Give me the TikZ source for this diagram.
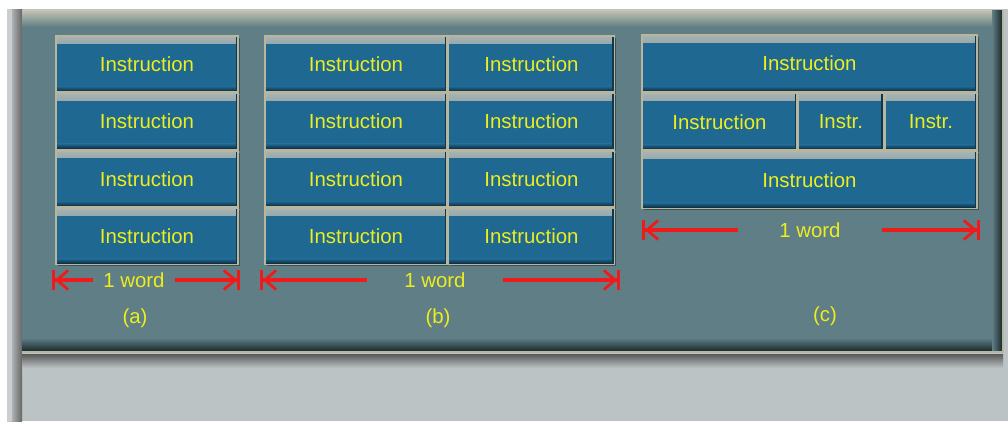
\documentclass[tikz,border=0pt]{standalone}
\usepackage{fontspec}
\setmainfont{Liberation Sans}
\usetikzlibrary{arrows.meta, positioning, shadows}

\definecolor{panelc}{HTML}{5F7E85}
\definecolor{outerc}{HTML}{BCC3C5}
\definecolor{boxc}{HTML}{1F6891}
\definecolor{boxhi}{HTML}{A9B3B1}
\definecolor{boxdk}{HTML}{0B2232}
\definecolor{edgec}{HTML}{B7B69E}
\definecolor{txtc}{HTML}{EEEE1E}
\definecolor{redc}{HTML}{EE1B1B}
\definecolor{darkedge}{HTML}{1C2A2E}

\begin{document}
\begin{tikzpicture}[
    x=0.025cm, y=-0.025cm,
    lbl/.style={text=txtc, font=\fontsize{14.5}{17}\selectfont, inner sep=0pt},
    instr/.style={lbl, draw=edgec, line width=1pt, fill=boxc, minimum height=1.4cm,
        drop shadow={shadow xshift=1.2pt, shadow yshift=-1.2pt, opacity=0.35, fill=black},
        path picture={
            \fill[top color=boxhi, bottom color=boxc] (path picture bounding box.north west) rectangle ([yshift=-5pt]path picture bounding box.north east);
            \fill[top color=boxc, bottom color=boxdk] ([yshift=4pt]path picture bounding box.south west) rectangle (path picture bounding box.south east);
            \fill[boxdk!70!boxc] ([xshift=-1.5pt]path picture bounding box.north east) rectangle (path picture bounding box.south east);
        }},
    word/.style={lbl, minimum height=0.5cm},
    dim/.style={draw=redc, line width=2.6pt, -{Straight Barb[length=2.8mm,width=4.8mm,line width=2pt]Bar[width=4.8mm,line width=2pt]}}
]
% frame and panel
\fill[white] (0,0) rectangle (1008,423);
\fill[outerc] (7,9) rectangle (1008,421);
\fill[left color=outerc!70!white, right color=gray!80!black] (7,9) rectangle (22,421);
\fill[outerc!80!white] (7,9) rectangle (12,421);
\fill[top color=gray!70!black, bottom color=outerc] (22,354) rectangle (1003,368);
\fill[panelc] (22,10) rectangle (1003,352);
\fill[top color=edgec!80!white, bottom color=panelc] (22,10) rectangle (1003,27);
\fill[top color=panelc, bottom color=darkedge] (22,338) rectangle (1003,351);
\fill[left color=panelc, right color=darkedge] (992,10) rectangle (1002,351);
\draw[edgec, line width=1.5pt] (22,352) -- (1003,352) -- (1003,10);

% (a) one instruction per word
\node[instr, minimum width=4.55cm] (a1) at (147,64) {Instruction};
\node[instr, minimum width=4.55cm, below=0pt of a1] (a2) {Instruction};
\node[instr, minimum width=4.55cm, below=0pt of a2] (a3) {Instruction};
\node[instr, minimum width=4.55cm, below=0pt of a3] (a4) {Instruction};

% (b) two instructions per word
\node[instr, minimum width=4.55cm] (b1) at (356,64) {Instruction};
\node[instr, minimum width=4.55cm, below=0pt of b1] (b3) {Instruction};
\node[instr, minimum width=4.55cm, below=0pt of b3] (b5) {Instruction};
\node[instr, minimum width=4.55cm, below=0pt of b5] (b7) {Instruction};
\node[instr, minimum width=4.15cm, right=0pt of b1] (b2) {Instruction};
\node[instr, minimum width=4.15cm, right=0pt of b3] (b4) {Instruction};
\node[instr, minimum width=4.15cm, right=0pt of b5] (b6) {Instruction};
\node[instr, minimum width=4.15cm, right=0pt of b7] (b8) {Instruction};

% (c) mixed lengths
\node[instr, minimum width=8.375cm, minimum height=1.42cm] (c1) at (809.5,63.5) {Instruction};
\node[instr, minimum width=3.875cm, minimum height=1.42cm, below=0pt of c1.south west, anchor=north west] (c2) {Instruction};
\node[instr, minimum width=2.125cm, minimum height=1.42cm, right=0pt of c2] (c3) {Instr.};
\node[instr, minimum width=2.3cm, minimum height=1.42cm, right=0pt of c3] (c4) {Instr.};
\node[instr, minimum width=8.375cm, minimum height=1.42cm, below=0pt of c2.south west, anchor=north west] (c5) {Instruction};

% word widths
\node[word, minimum width=2.05cm] (wa) at (134,280) {1 word};
\coordinate (aL) at (52,280);
\coordinate (aR) at (240,280);
\draw[dim] (wa) -- (aL);
\draw[dim] (wa) -- (aR);

\node[word, minimum width=3.4cm] (wb) at (435,280) {1 word};
\coordinate (bL) at (260,280);
\coordinate (bR) at (620,280);
\draw[dim] (wb) -- (bL);
\draw[dim] (wb) -- (bR);

\node[word, minimum width=3.6cm] (wc) at (810,230) {1 word};
\coordinate (cL) at (642,230);
\coordinate (cR) at (980,230);
\draw[dim] (wc) -- (cL);
\draw[dim] (wc) -- (cR);

% captions
\node[lbl] (capa) at (135,318) {(a)};
\node[lbl] (capb) at (438,318) {(b)};
\node[lbl] (capc) at (825,316) {(c)};
\end{tikzpicture}
\end{document}
